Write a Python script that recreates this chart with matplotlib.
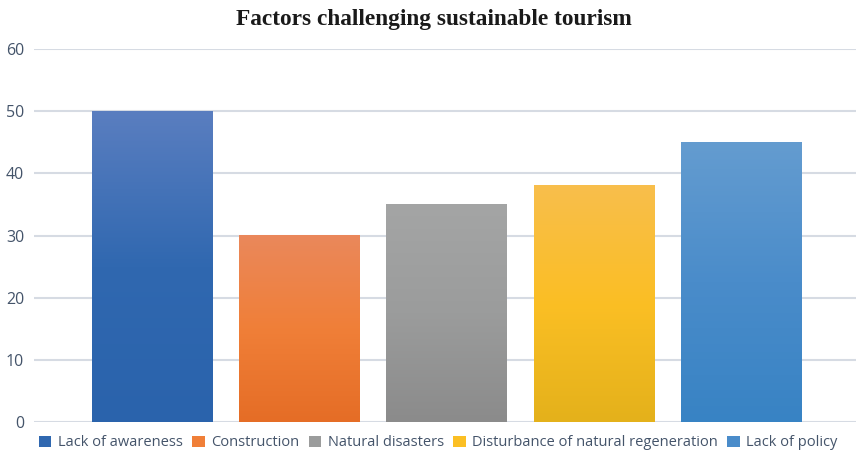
import matplotlib
matplotlib.use("Agg")
import matplotlib.pyplot as plt
import numpy as np
from matplotlib.colors import LinearSegmentedColormap
from matplotlib.patches import Patch

categories = ["Lack of awareness", "Construction", "Natural disasters",
              "Disturbance of natural regeneration", "Lack of policy"]
values = [50, 30, 35, 38, 45]
yticks = [0, 10, 20, 30, 40, 50, 60]

# gradient stops: top, middle, bottom
grad_colors = [
    ("#5A7EC0", "#3068B0", "#2A63AC"),
    ("#EA885B", "#F07F38", "#E56D26"),
    ("#A4A5A5", "#9B9C9C", "#8B8B8B"),
    ("#F8BE4C", "#FBBF24", "#E4B11B"),
    ("#649CD0", "#4A8CCA", "#3883C4"),
]

fig = plt.figure(figsize=(8.56, 4.53), dpi=100)
ax = fig.add_axes([34/856, 1-422/453, (856-34)/856, (422-49)/453])

text_color = "#44546A"
grid_color = "#D6DBE3"

for y in yticks:
    ax.axhline(y, color=grid_color, lw=1.5, zorder=0)

x = np.arange(len(categories))
width = 0.815
bars = ax.bar(x, values, width=width, color="none", zorder=2)
for b, (top, mid, bot) in zip(bars, grad_colors):
    cmap = LinearSegmentedColormap.from_list("g", [bot, mid, top])
    grad = np.linspace(0, 1, 256).reshape(-1, 1)
    x0, x1 = b.get_x(), b.get_x() + b.get_width()
    ax.imshow(grad, cmap=cmap, extent=[x0, x1, 0, b.get_height()],
              origin="lower", aspect="auto", interpolation="bicubic", zorder=2)

ax.set_xlim(-0.801, 4.781)
ax.set_ylim(0, 60)
ax.set_aspect("auto")
ax.set_yticks(yticks)
ax.set_xticks([])
for s in ax.spines.values():
    s.set_visible(False)
ax.tick_params(axis="y", length=0, pad=7, labelsize=11.5, labelcolor=text_color)
for lbl in ax.get_yticklabels():
    lbl.set_fontfamily("Open Sans")

fig.text(0.507, 1-19/453, "Factors challenging sustainable tourism",
         ha="center", va="center", fontsize=16.8, fontweight="bold",
         fontfamily="Liberation Serif", color="#1a1a1a")

handles = [Patch(facecolor=c[1], edgecolor="none") for c in grad_colors]
leg = fig.legend(handles, categories, loc="center", bbox_to_anchor=(0.512, 1-443/453),
                 ncol=5, frameon=False, handlelength=0.85, handleheight=0.85,
                 handletextpad=0.45, columnspacing=0.65,
                 prop={"family": "Open Sans", "size": 10.5})
for t in leg.get_texts():
    t.set_color(text_color)

fig.savefig("out.png", dpi=100)
